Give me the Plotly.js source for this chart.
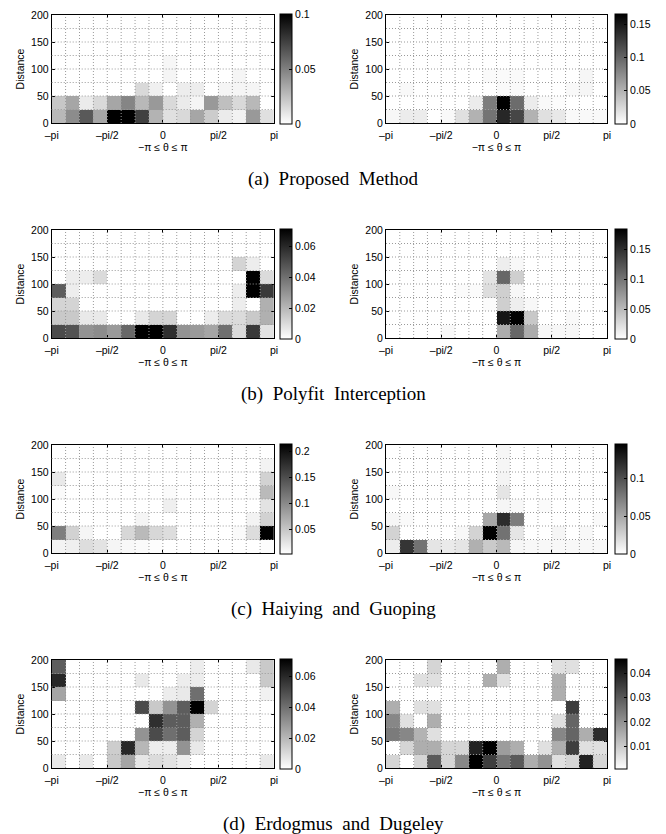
<!DOCTYPE html>
<html><head><meta charset="utf-8">
<script src="https://cdn.plot.ly/plotly-3.0.1.min.js"></script>
<style>html,body{margin:0;padding:0;background:#fff}</style>
</head><body><div id="chart" style="width:666px;height:834px"></div>
<script>
// ---------- data ----------
const thetaTickText = ['–pi', '–pi/2', '0', 'pi/2', 'pi'];
const distTickVals = [0, 50, 100, 150, 200];
const nTheta = 16, nDist = 8, distMax = 200;
const captions = ['(a)\u2002Proposed\u2002Method', '(b)\u2002Polyfit\u2002Interception', '(c)\u2002Haiying\u2002and\u2002Guoping', '(d)\u2002Erdogmus\u2002and\u2002Dugeley'];

// rows: distance bins 0-25 (first) ... 175-200 (last); columns: theta bins from -pi to pi
const proposedLeft = [
  [0.028,0.045,0.065,0.035,0.1,0.1,0.075,0.03,0.012,0.015,0.035,0.02,0.008,0.005,0.04,0.012],
  [0.022,0.035,0.008,0.015,0.035,0.048,0.028,0.04,0.015,0.008,0.004,0.04,0.025,0.015,0.028,0],
  [0,0,0,0,0,0,0.015,0.006,0,0.007,0.007,0,0.004,0.004,0.004,0],
  [0,0,0,0,0,0,0,0,0.004,0,0,0,0,0.004,0,0],
  [0,0,0,0,0,0,0,0,0.003,0,0,0,0,0,0,0],
  [0,0,0,0,0,0,0,0,0,0,0,0,0,0,0,0],
  [0,0,0,0,0,0,0,0,0,0,0,0,0,0,0,0],
  [0,0,0,0,0,0,0,0,0,0,0,0,0,0,0,0]
];
const proposedRight = [
  [0.005,0.012,0.012,0,0.004,0.02,0.05,0.09,0.14,0.12,0.05,0.02,0.015,0.004,0.004,0.004],
  [0,0,0,0,0,0,0.012,0.085,0.165,0.095,0.012,0.004,0.002,0,0,0],
  [0,0.004,0,0,0,0,0,0,0.003,0.003,0,0,0,0.004,0.006,0],
  [0,0,0,0,0,0,0,0.003,0.003,0.003,0,0,0,0,0.006,0],
  [0,0,0,0,0,0,0,0,0,0,0,0,0,0,0,0],
  [0,0,0,0,0,0,0,0,0,0,0,0,0,0,0,0],
  [0,0,0,0,0,0,0,0,0,0,0,0,0,0,0,0],
  [0,0,0,0,0,0,0,0,0,0,0,0,0,0,0,0]
];
const polyfitLeft = [
  [0.05,0.048,0.03,0.032,0.028,0.042,0.071,0.071,0.058,0.03,0.028,0.025,0.04,0.01,0.055,0.008],
  [0.015,0.015,0.006,0.006,0,0,0.006,0.012,0.012,0,0,0.005,0.01,0.01,0.015,0.022],
  [0.012,0.012,0,0,0,0,0,0,0,0,0,0,0,0.005,0,0.022],
  [0.045,0.005,0,0,0,0,0,0,0,0,0,0,0,0.005,0.071,0.055],
  [0,0.005,0.005,0.01,0,0,0,0,0,0,0,0,0,0,0.071,0.01],
  [0,0,0,0,0,0,0,0,0,0,0,0,0,0.012,0.005,0],
  [0,0,0,0,0,0,0,0,0,0,0,0,0,0,0,0],
  [0,0,0,0,0,0,0,0,0,0,0,0,0,0,0,0]
];
const polyfitRight = [
  [0,0,0,0,0.004,0,0,0,0.06,0.11,0.06,0.006,0.006,0.006,0,0],
  [0,0,0,0,0,0,0,0,0.17,0.185,0.04,0,0,0.004,0,0],
  [0,0,0,0,0,0,0,0.003,0.035,0.012,0.005,0,0,0,0,0],
  [0,0,0,0,0,0.003,0.003,0.025,0.035,0.006,0,0,0,0,0,0],
  [0,0,0,0,0,0,0,0.02,0.11,0.035,0,0,0,0,0,0],
  [0,0,0,0,0,0,0,0,0.012,0.005,0,0,0,0,0,0],
  [0,0,0,0,0,0,0,0,0,0,0,0,0,0,0,0],
  [0,0,0,0,0,0,0,0,0,0,0,0,0,0,0,0]
];
const haiyingLeft = [
  [0.012,0.015,0.03,0.025,0.01,0.008,0.006,0.004,0.002,0.002,0.002,0.002,0.002,0.002,0.002,0.004],
  [0.11,0.04,0.01,0.002,0.002,0.035,0.06,0.035,0.03,0.002,0.002,0.002,0.002,0.006,0.03,0.215],
  [0.002,0.002,0.002,0.002,0.002,0.002,0.01,0.002,0.002,0.002,0.002,0.002,0.002,0.002,0.012,0.04],
  [0.002,0.002,0.002,0.002,0.002,0.002,0.002,0.002,0.015,0.002,0.002,0.002,0.002,0.002,0.002,0.025],
  [0.006,0.002,0.002,0.002,0.002,0.002,0.002,0.002,0.005,0.002,0.002,0.002,0.002,0.002,0.004,0.06],
  [0.02,0.002,0.002,0.002,0.002,0.002,0.002,0.002,0.002,0.002,0.002,0.002,0.002,0.002,0.002,0.04],
  [0.002,0.002,0.002,0.002,0.002,0.002,0.002,0.002,0.002,0.002,0.002,0.002,0.002,0.002,0.002,0.012],
  [0.002,0.002,0.002,0.002,0.002,0.002,0.002,0.002,0.002,0.002,0.002,0.002,0.002,0.002,0.002,0.002]
];
const haiyingRight = [
  [0.01,0.115,0.08,0.015,0.012,0.015,0.045,0.03,0.04,0.005,0.004,0.004,0.004,0.004,0.004,0.004],
  [0.025,0,0,0,0,0.004,0.025,0.145,0.08,0.015,0,0,0.005,0,0.004,0],
  [0.005,0.003,0,0,0,0,0,0.05,0.12,0.075,0,0,0,0,0,0.003],
  [0,0,0,0,0,0,0,0,0.005,0.004,0,0.003,0,0,0,0],
  [0.004,0,0,0,0,0,0,0,0.015,0,0,0,0,0,0,0],
  [0,0,0,0,0,0,0,0,0.006,0,0,0,0,0,0,0],
  [0,0,0,0,0,0,0,0,0.005,0,0,0,0,0,0,0],
  [0,0,0,0,0,0,0,0,0.005,0,0,0,0,0,0,0]
];
const erdogmusLeft = [
  [0.006,0,0.006,0,0.015,0.025,0.007,0.01,0.008,0.005,0,0,0,0,0,0.006],
  [0,0,0,0,0.014,0.06,0.02,0.005,0.005,0.03,0.006,0,0,0,0,0],
  [0,0,0,0,0,0,0.03,0.05,0.04,0.045,0.012,0,0,0,0,0],
  [0,0,0,0,0,0,0,0.058,0.045,0.045,0.022,0,0,0,0,0],
  [0,0,0,0,0,0,0.05,0.015,0.03,0.045,0.071,0.012,0,0,0,0],
  [0.025,0,0,0,0,0,0,0,0.005,0.006,0.04,0,0,0,0,0.004],
  [0.06,0,0,0,0,0,0.006,0,0,0.005,0.005,0,0,0,0,0.015],
  [0.045,0,0,0,0,0,0,0,0,0,0.005,0,0,0,0.006,0.015]
];
const erdogmusRight = [
  [0.008,0,0.008,0.03,0.008,0.022,0.046,0.035,0.025,0.03,0.015,0.02,0.006,0.008,0.04,0.008],
  [0,0.008,0.015,0.015,0.008,0.008,0.04,0.046,0.018,0.015,0,0.006,0.015,0.035,0.006,0.006],
  [0.024,0.022,0.014,0.006,0,0,0,0,0,0,0,0,0.022,0.028,0.015,0.038],
  [0.022,0.006,0,0.015,0,0,0,0,0,0,0,0,0.006,0.028,0,0],
  [0.015,0,0.006,0.006,0,0,0,0,0,0,0,0,0,0.035,0,0],
  [0,0,0,0,0,0,0,0,0,0,0,0,0.015,0,0,0],
  [0,0,0.006,0.006,0,0,0,0.015,0.006,0,0,0,0.015,0,0,0],
  [0,0,0,0.008,0,0,0,0,0.015,0,0,0,0.006,0.006,0,0]
];
const panelData = [proposedLeft, proposedRight, polyfitLeft, polyfitRight, haiyingLeft, haiyingRight, erdogmusLeft, erdogmusRight];
const zMinVals = [0, 0, 0, 0, 0.002, 0, 0, 0.0005];
const zMaxVals = [0.1, 0.165, 0.071, 0.185, 0.215, 0.145, 0.071, 0.046];
const cbTickVals = [
  [0, 0.05, 0.1], [0, 0.05, 0.1, 0.15], [0, 0.02, 0.04, 0.06], [0, 0.05, 0.1, 0.15],
  [0.05, 0.1, 0.15, 0.2], [0, 0.05, 0.1], [0, 0.02, 0.04, 0.06], [0.01, 0.02, 0.03, 0.04]
];
const cbTickText = [
  ['0', '0.05', '0.1'], ['0', '0.05', '0.1', '0.15'], ['0', '0.02', '0.04', '0.06'], ['0', '0.05', '0.1', '0.15'],
  ['0.05', '0.1', '0.15', '0.2'], ['0', '0.05', '0.1'], ['0', '0.02', '0.04', '0.06'], ['0.01', '0.02', '0.03', '0.04']
];

// ---------- layout geometry ----------
const W = 666, H = 834;
const colPx = [[51.7, 274], [386, 607]];
const cbLeftPx = [280, 615];
const rowPx = [[15, 123], [230, 338], [445, 553], [660, 768]];
const captionPx = [179, 394, 609, 824];

const PI = Math.PI;
const binW = 2 * PI / nTheta, binH = distMax / nDist;
const thetaCenters = Array.from({length: nTheta}, (_, k) => -PI + (k + 0.5) * binW);
const distCenters = Array.from({length: nDist}, (_, k) => (k + 0.5) * binH);
const thetaTickVals = [-PI, -PI / 2, 0, PI / 2, PI];

const tickFont = {family: 'Liberation Sans, Arial, sans-serif', size: 10.5, color: '#000'};
const traces = [], shapes = [], annotations = [];
const layout = {
  width: W, height: H, margin: {l: 0, r: 0, t: 0, b: 0},
  paper_bgcolor: '#fff', plot_bgcolor: '#fff', showlegend: false,
  font: tickFont
};

panelData.forEach((z, i) => {
  const r = Math.floor(i / 2), c = i % 2;
  const sfx = i === 0 ? '' : String(i + 1);
  const yd = [1 - rowPx[r][1] / H, 1 - rowPx[r][0] / H];
  traces.push({
    type: 'heatmap', x: thetaCenters, y: distCenters, z: z,
    xaxis: 'x' + sfx, yaxis: 'y' + sfx,
    zmin: zMinVals[i], zmax: zMaxVals[i],
    colorscale: [[0, '#ffffff'], [1, '#000000']],
    hoverinfo: 'skip',
    colorbar: {
      x: cbLeftPx[c] / W, xanchor: 'left', xpad: 0, ypad: 0,
      y: (yd[0] + yd[1]) / 2, yanchor: 'middle',
      len: yd[1] - yd[0] + 2 / H, lenmode: 'fraction',
      thickness: 12, thicknessmode: 'pixels',
      outlinecolor: '#000', outlinewidth: 1,
      ticks: 'inside', ticklen: 3, tickcolor: '#000',
      tickmode: 'array', tickvals: cbTickVals[i], ticktext: cbTickText[i],
      tickfont: tickFont
    }
  });
  layout['xaxis' + sfx] = {
    domain: [colPx[c][0] / W, colPx[c][1] / W], anchor: 'y' + sfx,
    range: [-PI, PI], tickmode: 'array', tickvals: thetaTickVals, ticktext: thetaTickText,
    ticks: 'inside', ticklen: 3, tickcolor: '#000', showline: true, linecolor: '#000', linewidth: 1,
    mirror: 'ticks', showgrid: false, zeroline: false, tickfont: tickFont, fixedrange: true,
    ticklabelstandoff: 2,
    title: {text: '−π ≤ θ ≤ π', font: tickFont, standoff: 0}
  };
  layout['yaxis' + sfx] = {
    domain: yd, anchor: 'x' + sfx,
    range: [0, distMax], tickmode: 'array', tickvals: distTickVals,
    ticks: 'inside', ticklen: 3, tickcolor: '#000', showline: true, linecolor: '#000', linewidth: 1,
    mirror: 'ticks', showgrid: false, zeroline: false, tickfont: tickFont, fixedrange: true,
    title: {text: 'Distance', font: tickFont, standoff: 4}
  };
  const gridLine = {color: '#9a9a9a', width: 1, dash: '1px,2px'};
  for (let k = 1; k < nTheta; k++) {
    const xv = -PI + k * binW;
    shapes.push({type: 'line', layer: 'above', xref: 'x' + sfx, yref: 'y' + sfx + ' domain',
      x0: xv, x1: xv, y0: 0, y1: 1, line: gridLine});
  }
  for (let k = 1; k < nDist; k++) {
    const yv = k * binH;
    shapes.push({type: 'line', layer: 'above', xref: 'x' + sfx + ' domain', yref: 'y' + sfx,
      x0: 0, x1: 1, y0: yv, y1: yv, line: gridLine});
  }
});

captions.forEach((t, r) => {
  annotations.push({text: t, xref: 'paper', yref: 'paper', x: 0.5, y: 1 - captionPx[r] / H,
    xanchor: 'center', yanchor: 'middle', showarrow: false,
    font: {family: 'Liberation Serif, Times New Roman, serif', size: 19, color: '#000'}});
});

layout.shapes = shapes;
layout.annotations = annotations;
Plotly.newPlot('chart', traces, layout, {displayModeBar: false, staticPlot: true});
</script>
</body></html>
